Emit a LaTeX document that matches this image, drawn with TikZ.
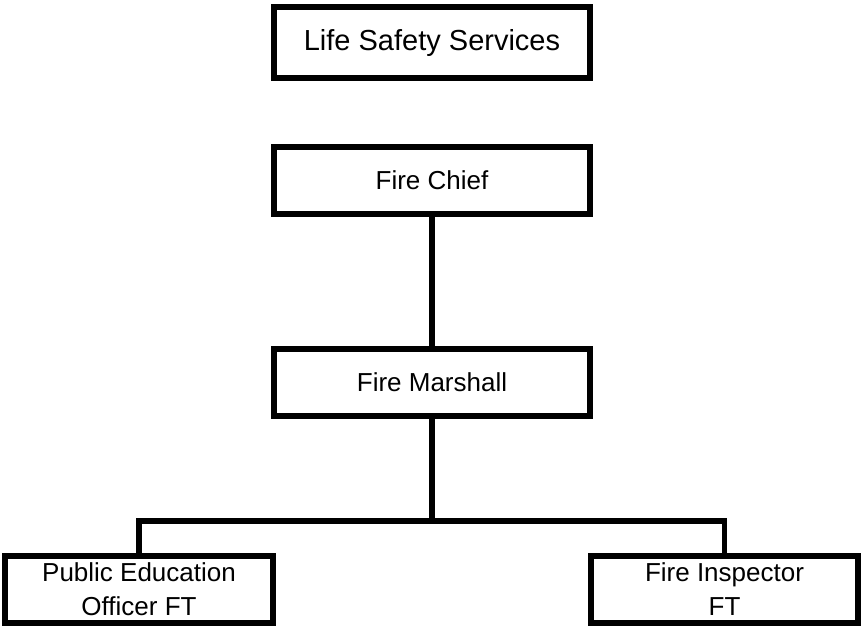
\documentclass[tikz,border=0pt]{standalone}
\usepackage{fontspec}
\setmainfont{Liberation Sans}

\begin{document}
\begin{tikzpicture}[x=0.75pt, y=-0.75pt,
    box/.style={draw, line width=4.5pt, minimum width=237pt, minimum height=50.25pt,
      inner sep=0pt, outer sep=0pt, align=center, font=\fontsize{19.5}{25.5}\selectfont},
    link/.style={line width=4.2pt, line join=miter},
  ]
  % Bildbereich
  \useasboundingbox (0,0) rectangle (862,629);
  % Kaesten
  \node[box, minimum height=53.25pt, font=\fontsize{21.75}{26}\selectfont] (lss) at (432,42.5) {Life Safety Services};
  \node[box] (chief) at (432,180.5) {Fire Chief};
  \node[box] (marshall) at (432,382.5) {Fire Marshall};
  \node[box, minimum width=201pt] (educ) at (139,589.5) {Public Education\\Officer FT};
  \node[box, minimum width=200.25pt] (insp) at (724.5,589.5) {Fire Inspector\\FT};
  % Verbindungen
  \coordinate (bar) at (432,521);
  \draw[link] (chief) -- (marshall);
  \draw[link] (marshall) -- (bar);
  \draw[link] (educ) |- (bar) -| (insp);
\end{tikzpicture}
\end{document}
